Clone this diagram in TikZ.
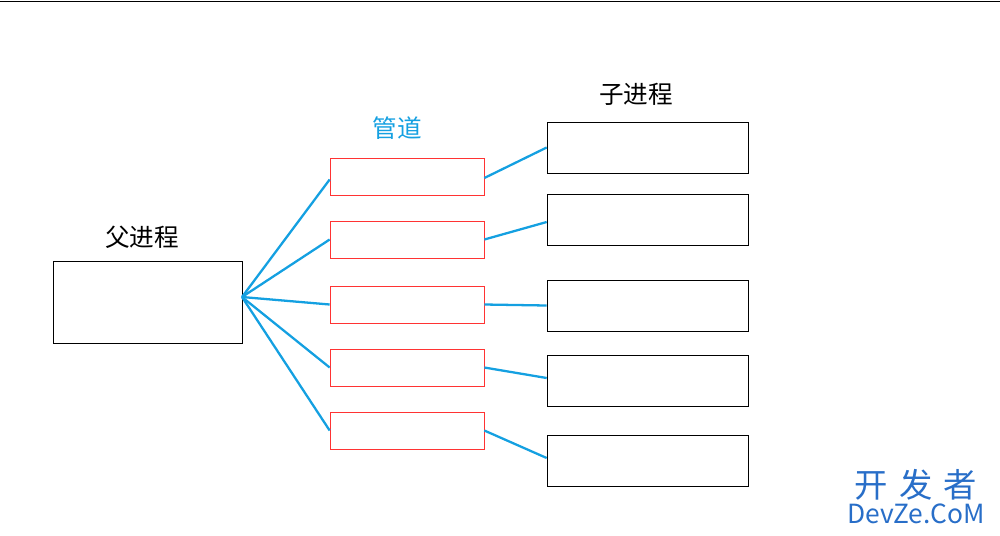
\documentclass[tikz,border=0pt]{standalone}
\usepackage{fontspec}
\setmainfont{Noto Sans CJK SC}
\usetikzlibrary{positioning}
\definecolor{pipeblue}{RGB}{20,160,225}
\definecolor{wmblue}{RGB}{40,110,200}
\tikzset{
	proc/.style={draw, thin, minimum width=3.78cm, minimum height=1.64cm, inner sep=0pt},
	child/.style={draw, thin, minimum width=4.02cm, minimum height=1.02cm, inner sep=0pt},
	pipe/.style={draw=red!80, thin, minimum width=3.08cm, minimum height=0.74cm, inner sep=0pt},
	link/.style={pipeblue, line width=1.3pt},
	lbl/.style={font=\fontsize{14}{16}\selectfont}
}
\begin{document}
\begin{tikzpicture}[x=0.02cm, y=-0.02cm]
	\useasboundingbox (0,0) rectangle (1000,535);
	\draw[thin] (0,1) -- (1000,1);
	% processes and pipes
	\node[proc] (parent) at (147.5,302) {};
	\coordinate (p) at (242,297);
	\node[lbl] (plabel) at (142,237) {父进程};
	\node[lbl, pipeblue] (pipelabel) at (397,128) {管道};
	\node[lbl] (clabel) at (636,94) {子进程};
	\node[pipe] (g1) at (407,176.5) {};
	\node[pipe] (g2) at (407,239.5) {};
	\node[pipe] (g3) at (407,304.5) {};
	\node[pipe] (g4) at (407,367.5) {};
	\node[pipe] (g5) at (407,430.5) {};
	\node[child] (c1) at (647.5,147.5) {};
	\node[child] (c2) at (647.5,219.5) {};
	\node[child] (c3) at (647.5,305.5) {};
	\node[child] (c4) at (647.5,380.5) {};
	\node[child] (c5) at (647.5,460.5) {};
	\draw[link] (p) -- ([yshift=-0.06cm]g1.west);
	\draw[link] (p) -- (g2.west);
	\draw[link] (p) -- (g3.west);
	\draw[link] (p) -- (g4.west);
	\draw[link] (p) -- (g5.west);
	\draw[link] ([yshift=-0.03cm]g1.east) -- (c1.west);
	\draw[link] (g2.east) -- ([yshift=-0.05cm]c2.west);
	\draw[link] (g3.east) -- (c3.west);
	\draw[link] (g4.east) -- ([yshift=0.05cm]c4.west);
	\draw[link] (g5.east) -- ([yshift=0.05cm]c5.west);
	% watermark
	\node[wmblue, font=\fontsize{19}{20}\selectfont, inner sep=0pt] (wm1) at (916,485) {开\,\,发\,\,者};
	\node[wmblue, font=\fontsize{15}{16}\selectfont, inner sep=0pt] (wm2) at (916,514) {DevZe.CoM};
\end{tikzpicture}
\end{document}
